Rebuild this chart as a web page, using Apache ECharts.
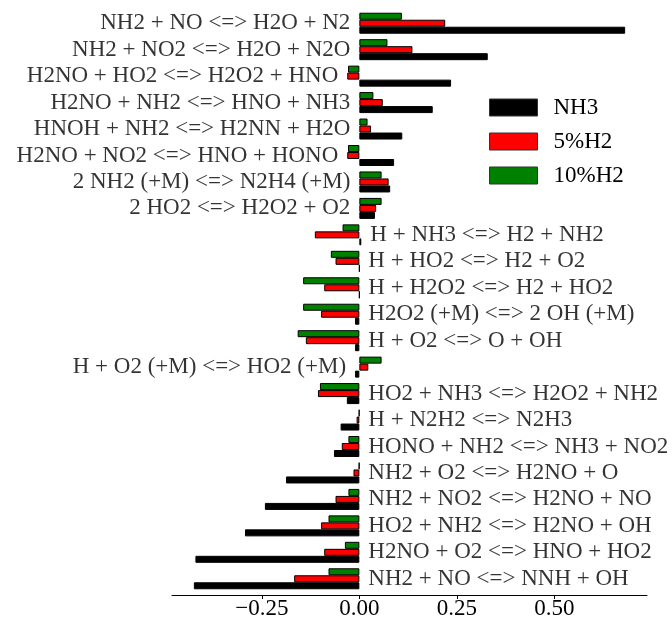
<!DOCTYPE html>
<html>
<head>
<meta charset="utf-8">
<script src="https://cdn.jsdelivr.net/npm/echarts@6/dist/echarts.min.js"></script>
<style>html,body{margin:0;padding:0;background:#fff}#c{width:672px;height:620px}</style>
</head>
<body>
<div id="c"></div>
<script>
const categories = [
  'NH2 + NO <=> H2O + N2',
  'NH2 + NO2 <=> H2O + N2O',
  'H2NO + HO2 <=> H2O2 + HNO',
  'H2NO + NH2 <=> HNO + NH3',
  'HNOH + NH2 <=> H2NN + H2O',
  'H2NO + NO2 <=> HNO + HONO',
  '2 NH2 (+M) <=> N2H4 (+M)',
  '2 HO2 <=> H2O2 + O2',
  'H + NH3 <=> H2 + NH2',
  'H + HO2 <=> H2 + O2',
  'H + H2O2 <=> H2 + HO2',
  'H2O2 (+M) <=> 2 OH (+M)',
  'H + O2 <=> O + OH',
  'H + O2 (+M) <=> HO2 (+M)',
  'HO2 + NH3 <=> H2O2 + NH2',
  'H + N2H2 <=> N2H3',
  'HONO + NH2 <=> NH3 + NO2',
  'NH2 + O2 <=> H2NO + O',
  'NH2 + NO2 <=> H2NO + NO',
  'HO2 + NH2 <=> H2NO + OH',
  'H2NO + O2 <=> HNO + HO2',
  'NH2 + NO <=> NNH + OH'
];
const nh3 = [0.681, 0.329, 0.235, 0.188, 0.110, 0.089, 0.079, 0.040, 0.005, 0.000, 0.000, -0.011, -0.011, -0.011, -0.032, -0.048, -0.065, -0.188, -0.242, -0.293, -0.420, -0.424];
const h2_5 = [0.220, 0.136, -0.031, 0.060, 0.030, -0.031, 0.075, 0.043, -0.114, -0.061, -0.090, -0.098, -0.137, 0.023, -0.106, -0.007, -0.045, -0.015, -0.061, -0.098, -0.090, -0.167];
const h2_10 = [0.109, 0.072, -0.029, 0.036, 0.021, -0.029, 0.057, 0.057, -0.043, -0.073, -0.144, -0.144, -0.158, 0.057, -0.101, -0.001, -0.028, -0.001, -0.028, -0.079, -0.037, -0.079];
const seriesNames = ['NH3', '5%H2', '10%H2'];
const tickValues = [-0.25, 0, 0.25, 0.5];

const FONT = "'Liberation Serif', 'Times New Roman', serif";

// label anchors derived from the data (opposite side of the bars)
const labelData = categories.map((c, i) => {
  const vals = [nh3[i], h2_5[i], h2_10[i]];
  const sum = vals.reduce((a, b) => a + b, 0);
  const left = sum > 0;
  const anchor = left ? Math.min(0, ...vals) : Math.max(0, ...vals);
  return {
    value: [anchor, i],
    label: { position: left ? 'left' : 'right' }
  };
});

function bar(name, data, color) {
  return {
    name: name,
    type: 'bar',
    data: data,
    barWidth: 7,
    barGap: '0%',
    itemStyle: { color: color, borderColor: '#000', borderWidth: 1 },
    emphasis: { disabled: true }
  };
}

const chart = echarts.init(document.getElementById('c'), null, { renderer: 'canvas' });
chart.setOption({
  animation: false,
  backgroundColor: '#fff',
  grid: { left: 172, right: 25, top: 10, bottom: 28 },
  legend: {
    data: seriesNames,
    orient: 'vertical',
    left: 489,
    top: 96,
    padding: 0,
    itemWidth: 48,
    itemHeight: 17,
    itemGap: 11,
    icon: 'rect',
    itemStyle: { borderColor: '#333', borderWidth: 1 },
    textStyle: { fontFamily: FONT, fontSize: 23, color: '#000', lineHeight: 17, padding: [0, 0, 0, 11] }
  },
  xAxis: {
    type: 'value',
    min: -0.48,
    max: 0.737,
    offset: 3,
    splitLine: { show: false },
    axisLine: { show: true, lineStyle: { color: '#000', width: 1 } },
    axisTick: { show: true, length: 4, customValues: tickValues, lineStyle: { color: '#000' } },
    axisLabel: {
      customValues: tickValues,
      fontFamily: FONT, fontSize: 23, color: '#000', margin: 2,
      formatter: v => (v < 0 ? '\u2212' : '') + Math.abs(v).toFixed(2)
    }
  },
  yAxis: {
    type: 'category',
    data: categories,
    inverse: true,
    axisLine: { show: false },
    axisTick: { show: false },
    axisLabel: { show: false },
    splitLine: { show: false }
  },
  series: [
    bar('10%H2', h2_10, '#008000'),
    bar('5%H2', h2_5, '#ff0000'),
    bar('NH3', nh3, '#000000'),
    {
      name: 'labels',
      type: 'scatter',
      symbolSize: 0,
      silent: true,
      data: labelData,
      label: {
        show: true,
        distance: 9,
        fontFamily: FONT,
        fontSize: 23,
        color: '#000',
        formatter: p => categories[p.value[1]]
      }
    }
  ]
});
</script>
</body>
</html>
